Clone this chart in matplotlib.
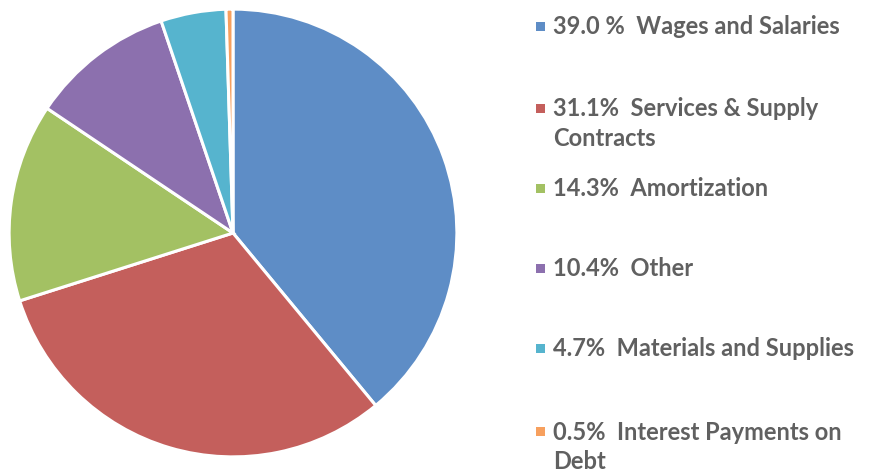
import matplotlib
matplotlib.use("Agg")
import matplotlib.pyplot as plt
from matplotlib.patches import Rectangle

categories = ["Wages and Salaries", "Services & Supply\nContracts", "Amortization",
              "Other", "Materials and Supplies", "Interest Payments on\nDebt"]
pct_labels = ["39.0 %", "31.1%", "14.3%", "10.4%", "4.7%", "0.5%"]
values = [39.0, 31.1, 14.3, 10.4, 4.7, 0.5]
colors = ["#5E8DC6", "#C45F5C", "#A3C163", "#8C70AE", "#56B4CE", "#F7A05E"]

W, H = 869, 474
fig = plt.figure(figsize=(W / 100, H / 100), dpi=100)
fig.patch.set_facecolor("white")

ax = fig.add_axes([8 / W, (H - 458) / H, 450 / W, 450 / H])
ax.pie(values, colors=colors, startangle=90, counterclock=False,
       wedgeprops=dict(edgecolor="white", linewidth=2.2))
ax.set_xlim(-1.005, 1.005)
ax.set_ylim(-1.005, 1.005)
ax.set_aspect("equal")

row_top = [17, 99, 179, 259, 339, 422]
for y, lab, cat, col in zip(row_top, pct_labels, categories, colors):
    fig.patches.append(Rectangle((536 / W, 1 - (y + 14) / H), 9 / W, 9 / H,
                                 transform=fig.transFigure, facecolor=col, edgecolor="none"))
    fig.text(553 / W, 1 - (y - 1.5) / H, f"{lab}  {cat}", ha="left", va="top",
             fontsize=17, fontweight="bold", family="Lato", color="#606060",
             linespacing=1.35)

fig.savefig("out.png", dpi=100)
